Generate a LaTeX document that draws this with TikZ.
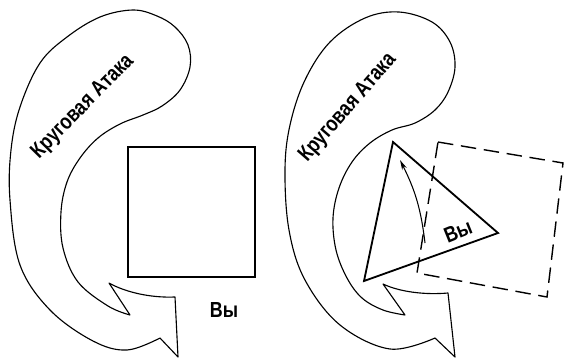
\documentclass[tikz,border=0pt]{standalone}
\usepackage{fontspec}
\newfontfamily\lblfont[FakeStretch=0.82]{Liberation Sans}
\usetikzlibrary{arrows.meta}

\begin{document}
\begin{tikzpicture}[x=0.5mm,y=-0.5mm,
  outline/.style={line width=1.6pt, line join=round},
  fig/.style={line width=2.6pt, line join=miter},
  ghost/.style={line width=2pt, dash pattern=on 22pt off 11pt},
  lbl/.style={font=\lblfont\fontsize{31}{33}\selectfont\bfseries, inner sep=0pt}]
  \useasboundingbox (0,0) rectangle (564,358);
  % left: circling attack around you
  \draw[outline] plot[smooth, tension=0.6] coordinates {(130,315) (108,306) (78,282)
    (63,248) (61,212) (67,182) (80,158) (98,138) (120,124) (143,115) (162,106)
    (180,90) (190,67) (188,45) (175,27) (157,16) (133,10) (100,17) (67,37) (40,63)
    (20,107) (11,150) (10,200) (20,265) (50,310) (93,341) (127,350) (160,338)}
    -- (178,357) -- (175,297) .. controls (150,298) and (125,292) .. (109,283) -- cycle;
  \node[lbl, rotate=45.6] (attackL) at (83,107) {Круговая Атака};
  \draw[fig] (128,147) rectangle (255,277);
  \node[lbl] (youL) at (224,310) {Вы};
  % right: you turned
  \draw[outline] plot[smooth, tension=0.6] coordinates {(405,315) (383,310) (362,298)
    (347,278) (336,250) (333,218) (339,188) (352,162) (370,143) (392,130) (415,123)
    (435,110) (448,92) (455,67) (450,42) (432,22) (399,12) (365,18) (330,42) (305,80)
    (290,125) (285,170) (289,230) (305,280) (340,325) (390,349) (435,338)}
    -- (455,357) -- (448,293) .. controls (425,295) and (400,292) .. (383,284) -- cycle;
  \node[lbl, rotate=49] (attackR) at (348,108) {Круговая Атака};
  \draw[ghost] (438,142) -- (563,163) -- (547,297) -- (417,273) -- cycle;
  \draw[fig] (393,142) -- (498,233) -- (364,281) -- cycle;
  \node[lbl, rotate=22] (youR) at (458,231) {Вы};
  \coordinate (turnfrom) at (425,243);
  \coordinate (turnto) at (400,160);
  \draw[line width=1.5pt, -{Stealth[length=5mm, width=2.5mm]}] (turnfrom) to[bend right=10] (turnto);
\end{tikzpicture}
\end{document}
